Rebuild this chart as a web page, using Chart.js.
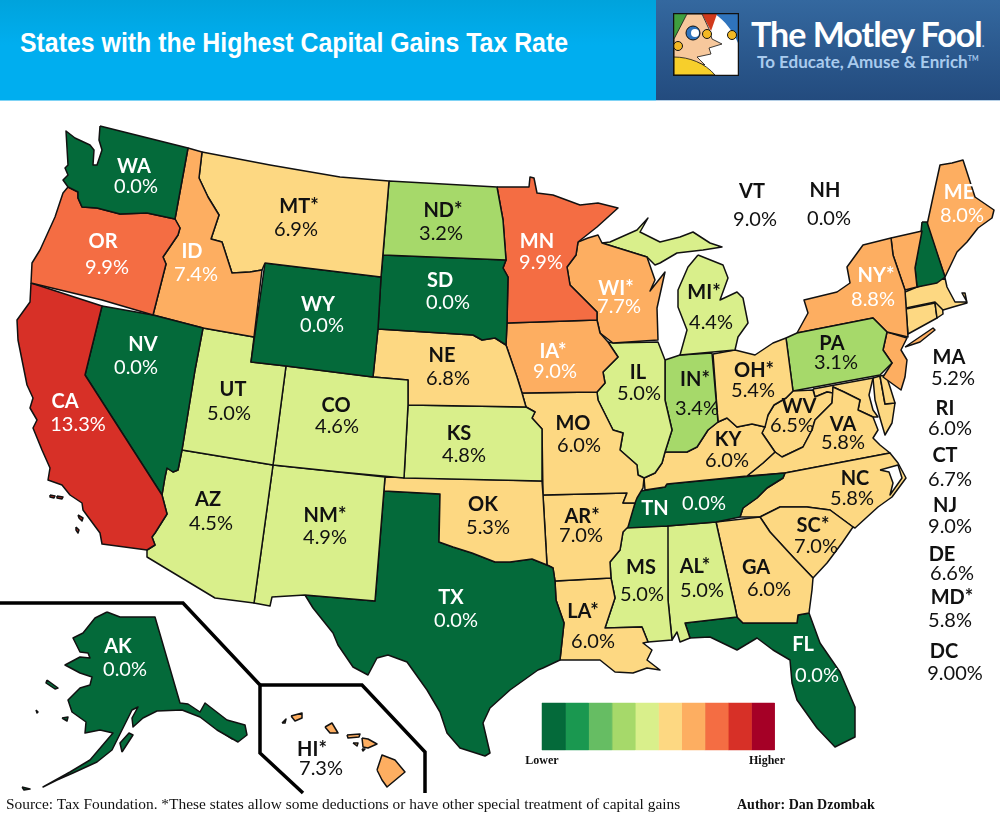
<!DOCTYPE html>
<html>
<head>
<meta charset="utf-8">
<title>States with the Highest Capital Gains Tax Rate</title>
<script src="https://cdn.jsdelivr.net/npm/chart.js@4"></script>
<style>
  html, body { margin: 0; padding: 0; background: #fff; }
  #page { position: relative; width: 1000px; height: 823px; overflow: hidden; }
  #map { position: absolute; left: 0; top: 0; }
  #banner { position: absolute; left: 0; top: 0; width: 656px; height: 100px; background: linear-gradient(#00a3dc, #00aeef 45%); border-bottom: 1px solid #7fd3f5; }
  #banner h1 { margin: 0; position: absolute; left: 20px; top: 27px; font: bold 28px "Liberation Sans", Arial, sans-serif; color: #fff; white-space: nowrap; transform-origin: 0 0; transform: scaleX(0.888); }
  #brand { position: absolute; left: 656px; top: 0; width: 344px; height: 100px; background: linear-gradient(#34689f, #234b7e); border-bottom: 1px solid #b5cfe6; color: #fff; }
  #brand svg { position: absolute; left: 17px; top: 13px; }
  #brand .name { position: absolute; left: 95px; top: 13px; font: bold 34px Lato, sans-serif; letter-spacing: -1px; white-space: nowrap; }
  #brand .tag { position: absolute; left: 101px; top: 51px; font: bold 17px Lato, sans-serif; color: #a9cbee; white-space: nowrap; }
</style>
</head>
<body>
<div id="page">
  <canvas id="map" width="1000" height="823"></canvas>
  <div id="banner"><h1>States with the Highest Capital Gains Tax Rate</h1></div>
  <div id="brand">
    <svg width="66" height="63" viewBox="0 0 66 63">
      <rect x="0.5" y="0.5" width="65" height="62" fill="#fff"/>
      <path d="M42 1H65V30C60 18 52 8 42 1Z" fill="#2f74bd"/>
      <path d="M1 1H14L2 26H1Z" fill="#3f9f3f"/>
      <path d="M29 1H44L38 18Z" fill="#d13a1c"/>
      <path d="M14 1H29L36 16L39 26L49 31L36 35L38 41L24 44L32 52L25 50L1 45V26Z" fill="#f7c89c" stroke="#111" stroke-width="0.8"/>
      <path d="M1 44C16 44 32 50 42 62H1Z" fill="#f7cf2b" stroke="#111" stroke-width="0.8"/>
      <circle cx="20" cy="20" r="7" fill="#2f74bd" stroke="#111"/>
      <circle cx="22" cy="20" r="4" fill="#fff"/>
      <circle cx="34" cy="21" r="4.5" fill="#f2b824" stroke="#111"/>
      <circle cx="59" cy="22" r="4.5" fill="#f2b824" stroke="#111"/>
      <circle cx="5" cy="33" r="4.5" fill="#f2b824" stroke="#111"/>
      <rect x="0.5" y="0.5" width="65" height="62" fill="none" stroke="#111" stroke-width="1.5"/>
    </svg>
    <div class="name">The Motley Fool<span style="font-size:12px;color:#a9cbee">.</span></div>
    <div class="tag">To Educate, Amuse &amp; Enrich<sup style="font-size:7px">TM</sup></div>
  </div>
</div>
<script>
// Capital gains tax rate per state.
const stateCodes = ['WA','OR','CA','NV','ID','MT','WY','UT','AZ','CO','NM','ND','SD','NE','KS','OK','TX','MN','IA','MO','AR','LA','WI','IL','MI','IN','OH','KY','TN','MS','AL','GA','FL','SC','NC','VA','WV','PA','NY','VT','NH','ME','MA','RI','CT','NJ','DE','MD','DC','AK','HI'];
const stateNames = ['WA','OR','CA','NV','ID','MT*','WY','UT','AZ','CO','NM*','ND*','SD','NE','KS','OK','TX','MN','IA*','MO','AR*','LA*','WI*','IL','MI*','IN*','OH*','KY','TN','MS','AL*','GA','FL','SC*','NC','VA','WV','PA','NY*','VT','NH','ME','MA','RI','CT','NJ','DE','MD*','DC','AK','HI*'];
const stateRates = [0,9.9,13.3,0,7.4,6.9,0,5,4.5,4.6,4.9,3.2,0,6.8,4.8,5.3,0,9.9,9,6,7,6,7.7,5,4.4,3.4,5.4,6,0,5,5,6,0,7,5.8,5.8,6.5,3.1,8.8,9,0,8,5.2,6,6.7,9,6.6,5.8,9,0,7.3];
// index into legendColors, as coloured on the map
const stateBands = [0,7,8,0,6,5,0,4,4,4,4,3,0,5,4,5,0,7,6,5,5,5,6,4,4,3,5,5,0,4,4,5,0,5,5,5,5,3,6,6,0,6,5,5,5,6,5,5,5,0,6];
const whiteLabels = ['WA','OR','CA','NV','ID','WY','SD','TX','MN','IA','WI','NY','ME','TN','FL','AK'];

const legendColors = ['#046a3a','#1a9850','#66bd63','#a6d96a','#d9ef8b','#fdd882','#fdae61','#f46d43','#d73027','#a50026'];
const legendEnds = ['Lower','Higher'];
const sourceNote = 'Source: Tax Foundation. *These states allow some deductions or have other special treatment of capital gains';
const authorNote = 'Author: Dan Dzombak';

// Map outlines in picture coordinates, one or more rings per state.
const stateShapes = {
  WA: [[[100,126],[188,148],[175,219],[147,213],[120,214],[97,208],[82,207],[78,198],[78,192],[68,187],[63,180],[68,175],[65,168],[68,165],[66,131],[75,138],[90,145],[94,150],[93,165],[97,165],[102,150],[99,140]]],
  OR: [[[68,187],[78,192],[78,198],[82,207],[97,208],[120,214],[147,213],[175,219],[180,228],[178,235],[163,257],[166,264],[153,315],[102,300],[31,283],[32,263],[40,250],[55,217],[63,193]]],
  CA: [[[31,283],[102,306],[85,375],[162,495],[167,514],[155,533],[152,537],[155,545],[147,550],[102,544],[100,533],[83,510],[82,503],[70,495],[62,485],[48,480],[50,468],[42,450],[33,428],[37,420],[30,408],[33,398],[27,385],[24,370],[18,340],[17,320],[30,302]],
       [[50,495],[55,496],[54,498],[50,497]],[[57,496],[63,497],[62,499],[57,498]],[[78,515],[83,518],[82,521],[79,518]],[[76,527],[79,530],[78,533],[76,530]]],
  NV: [[[102,306],[153,315],[203,328],[195,370],[182,450],[178,470],[173,472],[167,468],[165,477],[162,495],[85,375]]],
  ID: [[[188,148],[202,152],[199,178],[208,197],[219,215],[211,239],[222,242],[232,273],[250,272],[262,270],[254,337],[203,328],[153,315],[166,264],[163,257],[178,235],[180,228],[175,219]]],
  MT: [[[202,152],[270,165],[340,177],[389,181],[381,277],[265,263],[262,270],[250,272],[232,273],[222,242],[211,239],[219,215],[208,197],[199,178]]],
  WY: [[[265,263],[381,277],[378,329],[373,377],[286,366],[251,362]]],
  UT: [[[203,328],[254,337],[251,362],[286,366],[273,465],[182,450],[195,370]]],
  AZ: [[[182,450],[273,465],[254,603],[215,598],[147,557],[147,550],[155,545],[152,537],[155,533],[167,514],[162,495],[165,477],[167,468],[173,472],[178,470]]],
  CO: [[[286,366],[373,377],[408,380],[408,405],[404,478],[340,472],[273,465]]],
  NM: [[[273,465],[385,477],[375,601],[305,595],[272,597],[270,606],[254,603]]],
  ND: [[[389,181],[497,187],[503,220],[506,260],[383,255]]],
  SD: [[[383,255],[506,260],[503,268],[508,277],[507,323],[506,345],[495,338],[482,340],[473,335],[378,329],[381,277]]],
  NE: [[[378,329],[473,335],[482,340],[495,338],[506,345],[517,377],[522,393],[526,407],[408,405],[408,380],[373,377]]],
  KS: [[[408,405],[526,407],[535,412],[532,418],[542,429],[542,481],[404,478]]],
  OK: [[[385,477],[542,481],[543,495],[547,565],[532,559],[510,562],[495,562],[472,553],[453,547],[439,542],[440,494],[384,491]]],
  TX: [[[384,491],[440,494],[439,542],[453,547],[472,553],[495,562],[510,562],[532,559],[547,565],[553,568],[555,581],[556,600],[564,623],[560,660],[543,668],[538,670],[510,690],[490,708],[483,723],[490,753],[485,756],[460,748],[447,733],[440,712],[427,690],[407,662],[388,655],[377,658],[368,675],[353,667],[338,645],[333,633],[313,608],[305,595],[375,601]]],
  MN: [[[497,187],[529,187],[530,177],[534,178],[537,193],[553,195],[580,205],[598,203],[618,208],[597,227],[578,242],[576,255],[567,267],[570,285],[583,298],[597,312],[597,320],[507,323],[508,277],[503,268],[506,260],[503,220]]],
  IA: [[[507,323],[597,320],[600,333],[608,342],[618,357],[603,372],[605,383],[597,392],[522,393],[517,377],[506,345]]],
  MO: [[[522,393],[597,392],[598,400],[613,430],[623,433],[620,450],[637,465],[638,475],[644,478],[643,488],[637,498],[635,503],[623,503],[627,493],[543,495],[542,429],[532,418],[535,412],[526,407]]],
  AR: [[[543,495],[627,493],[623,503],[635,503],[628,527],[623,532],[620,550],[610,562],[611,578],[555,581],[553,568],[547,565]]],
  LA: [[[555,581],[611,578],[615,598],[605,628],[642,627],[648,642],[643,643],[652,650],[647,660],[660,670],[647,668],[633,673],[615,672],[600,660],[560,660],[564,623],[556,600]]],
  WI: [[[578,242],[588,238],[598,235],[602,243],[647,257],[655,280],[650,291],[665,272],[657,308],[658,340],[613,343],[600,333],[597,320],[597,312],[583,298],[570,285],[567,267],[576,255]]],
  IL: [[[613,343],[658,342],[665,360],[665,400],[672,430],[665,452],[662,463],[655,473],[644,478],[638,475],[637,465],[620,450],[623,433],[613,430],[598,400],[597,392],[605,383],[603,372],[618,357],[608,342]]],
  MI: [[[698,255],[723,265],[728,278],[720,300],[737,292],[743,298],[748,323],[738,337],[735,350],[680,355],[687,330],[678,307],[678,290],[688,267]],
       [[602,243],[610,242],[637,230],[648,218],[640,232],[660,242],[680,237],[693,232],[710,243],[722,247],[703,250],[677,253],[660,263],[655,265],[647,257]]],
  IN: [[[665,360],[680,355],[712,353],[718,422],[708,430],[697,447],[687,452],[665,452],[672,430],[665,400]]],
  OH: [[[713,354],[735,350],[755,355],[773,343],[786,338],[793,391],[786,398],[774,405],[768,415],[765,427],[752,424],[737,427],[727,418],[718,422]]],
  KY: [[[645,490],[644,478],[655,473],[662,463],[665,452],[687,452],[697,447],[708,430],[718,422],[727,418],[737,427],[752,424],[765,427],[762,433],[775,452],[763,463],[747,476],[667,484],[665,487]]],
  TN: [[[635,492],[665,487],[667,484],[785,473],[783,478],[767,488],[757,498],[743,508],[740,517],[716,522],[667,526],[627,528],[632,512],[635,503]]],
  MS: [[[627,527],[668,526],[668,600],[672,640],[648,642],[642,627],[605,628],[615,598],[611,578],[610,562],[620,550],[623,532]]],
  AL: [[[667,526],[716,522],[735,607],[737,617],[685,623],[690,638],[680,642],[677,632],[672,640],[668,600]]],
  GA: [[[716,522],[760,517],[770,532],[793,557],[813,578],[812,590],[809,613],[798,615],[797,623],[743,623],[737,617],[735,607]]],
  FL: [[[809,613],[798,615],[797,623],[743,623],[737,617],[685,623],[690,638],[710,637],[737,650],[757,638],[773,650],[790,660],[792,683],[797,700],[817,728],[835,747],[855,737],[855,707],[840,672],[820,643]]],
  SC: [[[760,517],[780,507],[807,507],[830,510],[853,527],[842,543],[827,563],[813,578],[793,557],[770,532]]],
  NC: [[[785,473],[890,453],[898,463],[906,478],[892,497],[878,507],[855,528],[853,527],[830,510],[807,507],[780,507],[760,517],[740,517],[743,508],[757,498],[767,488],[783,478]]],
  VA: [[[747,476],[763,463],[775,452],[782,457],[803,447],[812,430],[815,420],[832,403],[833,387],[844,392],[860,400],[858,410],[873,417],[878,430],[873,438],[880,445],[890,453],[785,473]]],
  WV: [[[793,391],[786,398],[774,405],[768,415],[762,433],[775,452],[782,457],[803,447],[812,430],[815,420],[832,403],[833,393],[827,392],[815,397],[813,390]]],
  MD: [[[813,389],[873,378],[869,395],[873,410],[878,417],[873,417],[858,410],[860,400],[844,392],[833,387],[833,393],[827,392],[815,397]],
       [[873,378],[880,376],[885,404],[895,403],[892,423],[885,435],[880,418],[875,400]]],
  DE: [[[880,376],[886,375],[890,387],[895,403],[885,404]]],
  PA: [[[786,338],[797,333],[873,318],[887,332],[883,350],[892,363],[880,375],[793,391]]],
  NJ: [[[887,332],[907,338],[901,350],[907,360],[905,377],[901,390],[883,377],[892,363],[883,350]]],
  NY: [[[797,333],[808,313],[804,300],[837,292],[850,283],[847,267],[863,245],[891,238],[893,255],[905,290],[908,337],[887,332],[873,318]],
       [[905,347],[933,328],[935,330],[920,342]]],
  VT: [[[891,238],[922,231],[915,268],[917,287],[905,290],[893,255]]],
  NH: [[[922,222],[927,222],[945,277],[937,283],[917,287],[915,268],[921,232]]],
  ME: [[[927,225],[933,197],[940,165],[952,163],[963,160],[975,197],[994,210],[992,218],[978,228],[967,242],[957,252],[945,277]]],
  MA: [[[905,292],[917,287],[945,278],[947,287],[955,302],[967,302],[962,293],[965,293],[967,303],[953,307],[943,310],[935,302],[906,308]]],
  CT: [[[906,309],[935,303],[937,318],[908,334]]],
  RI: [[[935,303],[942,301],[943,314],[937,318]]],
  AK: [[[107,612],[120,617],[155,617],[180,703],[188,704],[200,712],[205,703],[227,720],[245,725],[247,735],[238,742],[217,730],[200,717],[182,710],[157,711],[143,718],[133,727],[132,718],[138,707],[132,710],[122,730],[112,750],[97,762],[73,773],[57,780],[43,787],[70,772],[90,760],[113,733],[100,730],[85,733],[86,722],[72,712],[68,700],[80,688],[90,685],[92,677],[80,673],[65,665],[80,657],[90,658],[88,653],[80,652],[73,638],[83,633],[95,618]],
       [[122,752],[133,735],[129,733],[120,743]],[[62,718],[68,717],[67,721]],[[47,680],[58,688],[55,689],[46,683]],[[22,787],[30,789],[24,790]],[[36,710],[38,712],[37,713]],
       [[210,712],[225,725],[220,727],[208,717]],[[222,728],[236,737],[232,739],[220,731]]],
  HI: [[[377,770],[382,755],[395,760],[405,772],[387,787],[382,780]],
       [[362,738],[368,739],[377,744],[368,748],[363,747]],[[347,735],[360,734],[359,737],[348,738]],
       [[325,727],[332,723],[338,733],[330,733]],[[291,716],[302,713],[302,718],[295,721]],[[282,723],[286,719],[285,723]],
       [[353,743],[358,743],[357,746]],[[362,749],[365,749],[363,751]]]
};
// White water cut out of North Carolina
const soundShape = [[880,470],[898,465],[902,478],[890,495],[893,483],[889,472]];
// Black frames around the Alaska and Hawaii insets
const insetFrames = [
  [[0,603],[183,603],[260,685],[260,753],[303,793]],
  [[260,685],[362,685],[425,752],[425,793]]
];

// [code x, code y, rate x, rate y] in picture coordinates
const labelSpots = {
  WA:[134,165,136,186], OR:[103,240,107,267], CA:[65,400,78,424], NV:[143,343,136,367], ID:[192,250,196,274],
  MT:[299,205,296,229], WY:[318,303,322,325], UT:[233,388,229,413], AZ:[208,498,211,523], CO:[336,404,337,426],
  NM:[325,514,325,537], ND:[443,209,441,233], SD:[440,279,448,302], NE:[442,354,448,378], KS:[459,432,464,455],
  OK:[483,503,488,527], TX:[451,596,456,620], MN:[537,240,541,262], IA:[553,350,555,371], MO:[573,422,579,445],
  AR:[582,515,581,535], LA:[583,610,593,641], WI:[616,287,619,306], IL:[638,371,639,393], MI:[704,291,711,322],
  IN:[695,378,697,408], OH:[754,369,753,390], KY:[728,438,727,460], TN:[655,507,704,503], MS:[641,566,642,594],
  AL:[695,565,702,590], GA:[756,566,769,589], FL:[803,643,817,675], SC:[813,524,816,546], NC:[855,477,852,498],
  VA:[843,423,843,442], WV:[799,405,792,425], PA:[832,342,836,362], NY:[876,274,873,299], VT:[752,190,755,219],
  NH:[825,189,829,218], ME:[959,191,962,215], MA:[949,356,953,378], RI:[945,407,950,428], CT:[945,454,950,479],
  NJ:[945,504,950,526], DE:[942,553,952,573], MD:[952,596,950,620], DC:[944,650,955,673], AK:[118,645,125,669], HI:[312,748,321,768]
};

function toPoints(ring) {
  const pts = ring.map(p => ({x: p[0], y: p[1]}));
  pts.push({x: ring[0][0], y: ring[0][1]});
  return pts;
}

function shapeDataset(ring, color) {
  return {
    data: toPoints(ring),
    showLine: true,
    fill: 'shape',
    backgroundColor: color,
    borderColor: '#111',
    borderWidth: 1.5,
    borderJoinStyle: 'round',
    pointRadius: 0,
    tension: 0
  };
}

const datasets = [];
insetFrames.forEach(frame => {
  datasets.push({
    data: frame.map(p => ({x: p[0], y: p[1]})),
    showLine: true, fill: false, borderColor: '#000', borderWidth: 3.5,
    borderJoinStyle: 'miter', pointRadius: 0, tension: 0
  });
});
datasets.push(shapeDataset(soundShape, '#fff'));
stateCodes.forEach((code, i) => {
  (stateShapes[code] || []).forEach(ring => datasets.push(shapeDataset(ring, legendColors[stateBands[i]])));
});
// legend strip, ten equal cells
legendColors.forEach((color, i) => {
  const x0 = 542 + i * 23.25, x1 = x0 + 23.25;
  datasets.push({
    data: toPoints([[x0,703],[x1,703],[x1,750],[x0,750]]),
    showLine: true, fill: 'shape', backgroundColor: color, borderColor: color, borderWidth: 0.5, pointRadius: 0, tension: 0
  });
});

const textPlugin = {
  id: 'mapText',
  afterDatasetsDraw(chart) {
    const {ctx, scales} = chart;
    const px = v => scales.x.getPixelForValue(v);
    const py = v => scales.y.getPixelForValue(v);
    ctx.save();
    ctx.textAlign = 'center';
    ctx.textBaseline = 'middle';
    stateCodes.forEach((code, i) => {
      const spot = labelSpots[code];
      ctx.fillStyle = whiteLabels.includes(code) ? '#fff' : '#111';
      ctx.font = 'bold 20px Lato, sans-serif';
      ctx.fillText(stateNames[i], px(spot[0]), py(spot[1] + 2));
      ctx.font = '20px Lato, sans-serif';
      const digits = code === 'DC' ? 2 : 1;
      ctx.fillText(stateRates[i].toFixed(digits) + '%', px(spot[2]), py(spot[3] + 1));
    });
    ctx.fillStyle = '#111';
    ctx.font = 'bold 12px "Liberation Serif", serif';
    ctx.fillText(legendEnds[0], px(542), py(761));
    ctx.fillText(legendEnds[1], px(767), py(761));
    ctx.textAlign = 'left';
    ctx.font = '15.4px "Liberation Serif", serif';
    ctx.fillText(sourceNote, px(6), py(805));
    ctx.font = 'bold 14px "Liberation Serif", serif';
    ctx.fillText(authorNote, px(737), py(805));
    ctx.restore();
  }
};

new Chart(document.getElementById('map'), {
  type: 'scatter',
  data: {datasets},
  options: {
    responsive: false,
    animation: false,
    layout: {padding: 0},
    plugins: {legend: {display: false}, tooltip: {enabled: false}, title: {display: false}},
    scales: {
      x: {type: 'linear', min: 0, max: 1000, display: false},
      y: {type: 'linear', min: 0, max: 823, reverse: true, display: false}
    }
  },
  plugins: [textPlugin]
});
</script>
</body>
</html>
